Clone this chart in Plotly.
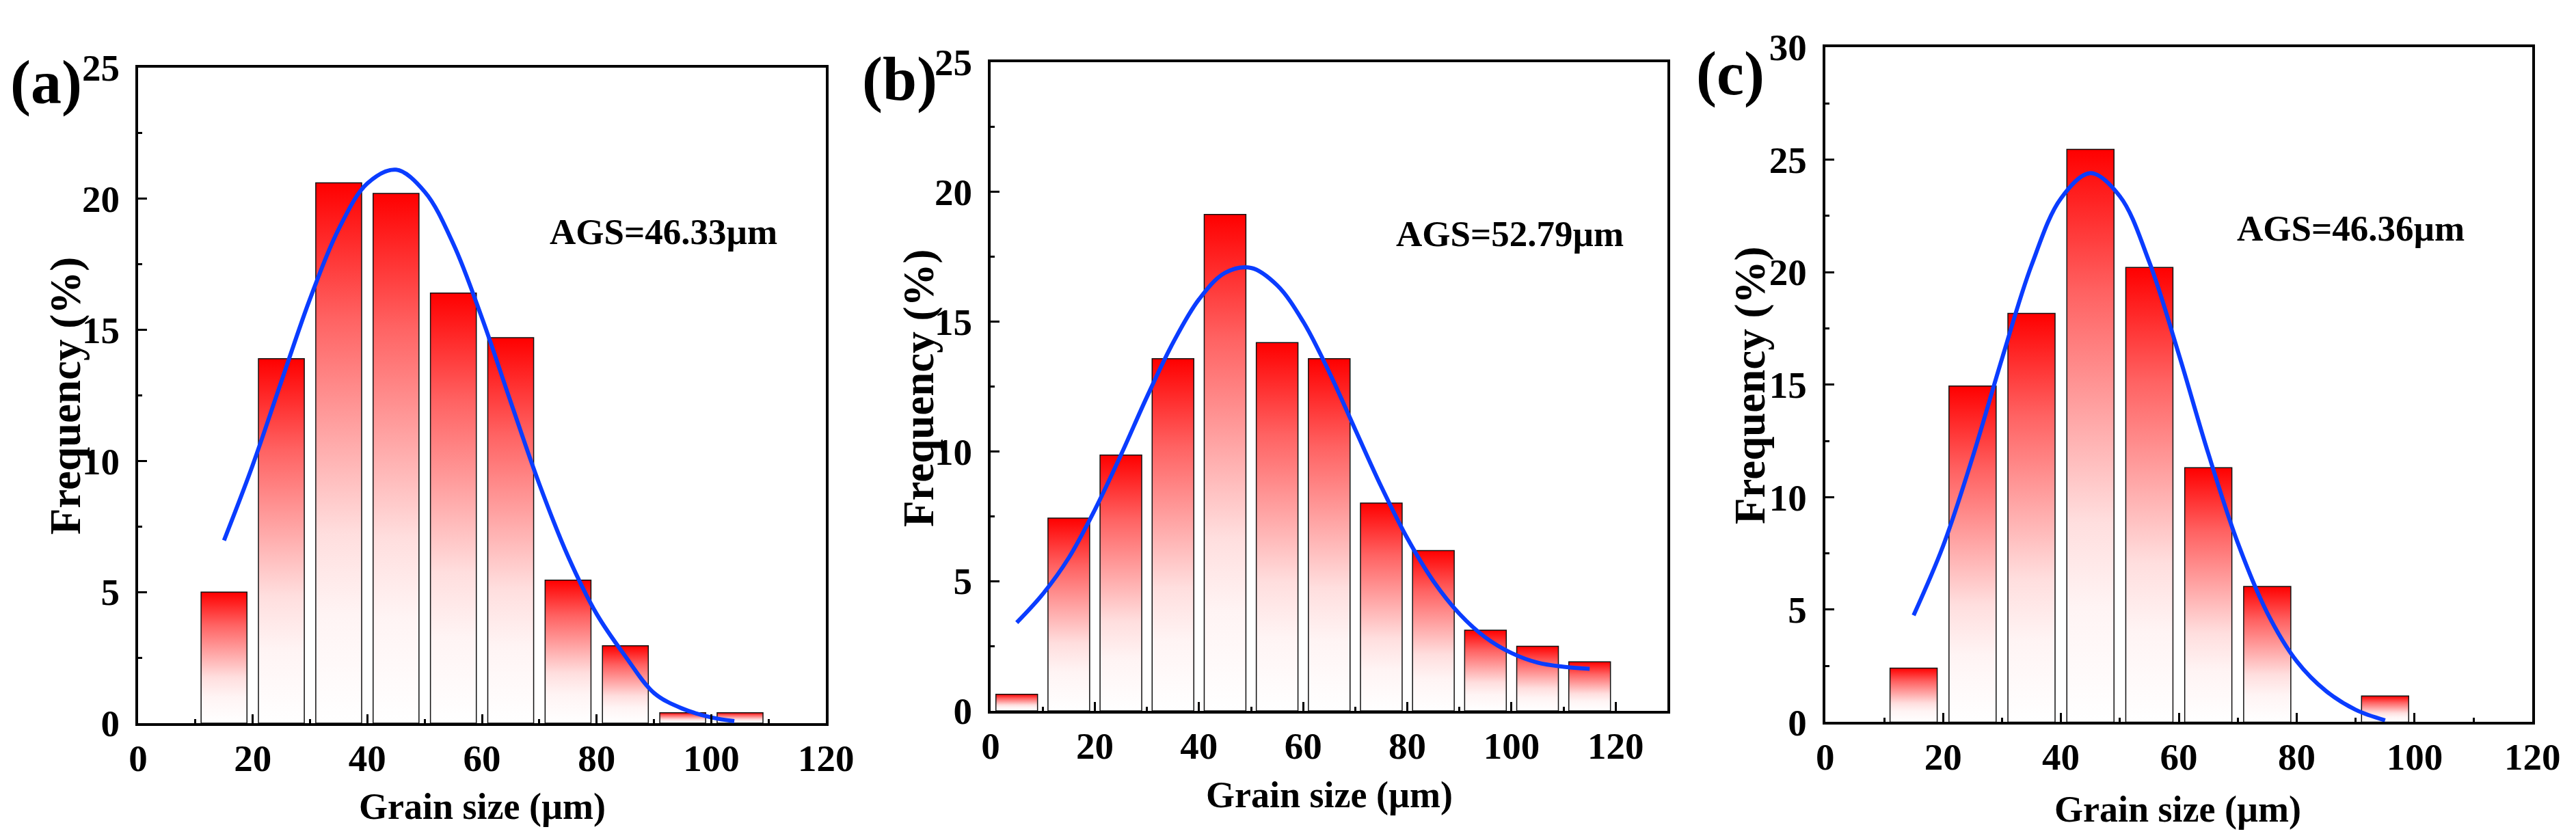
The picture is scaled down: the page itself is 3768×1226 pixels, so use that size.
import plotly.graph_objects as go

# ---- data ----
bins_a = [15, 25, 35, 45, 55, 65, 75, 85, 95, 105]
freq_a = [5.0, 13.9, 20.6, 20.2, 16.4, 14.7, 5.45, 2.95, 0.4, 0.4]
bins_b = [5, 15, 25, 35, 45, 55, 65, 75, 85, 95, 105, 115]
freq_b = [0.64, 7.43, 9.86, 13.57, 19.13, 14.19, 13.57, 8.01, 6.18, 3.11, 2.49, 1.89]
bins_c = [15, 25, 35, 45, 55, 65, 75, 95]
freq_c = [2.4, 14.94, 18.17, 25.46, 20.21, 11.31, 6.03, 1.16]

# fitted curves
fit_x_a = [15, 20, 25, 30, 35, 40, 45, 50, 55, 60, 65, 70, 75, 80, 85, 90, 95, 100, 104]
fit_y_a = [6.97, 9.84, 13.03, 16.18, 18.84, 20.58, 21.1, 20.26, 18.27, 15.44, 12.25,
           9.11, 6.36, 4.16, 2.55, 1.15, 0.55, 0.22, 0.08]
fit_x_b = [5, 10, 15, 20, 25, 30, 35, 40, 45, 50, 55, 60, 65, 70, 75, 80, 85, 90, 95,
           100, 105, 110, 115]
fit_y_b = [3.4, 4.5, 5.9, 7.75, 9.86, 12.1, 14.18, 15.86, 16.88, 17.07, 16.4, 15.0,
           13.05, 10.84, 8.64, 6.65, 5.0, 3.74, 2.83, 2.23, 1.86, 1.7, 1.62]
fit_x_c = [15, 20, 25, 30, 35, 40, 45, 50, 55, 60, 65, 70, 75, 80, 85, 90, 95]
fit_y_c = [4.75, 7.83, 11.77, 16.16, 20.3, 23.28, 24.4, 23.37, 20.44, 16.35, 11.94,
           7.97, 4.86, 2.71, 1.38, 0.55, 0.08]

ags_labels = ['AGS=46.33\u00b5m', 'AGS=52.79\u00b5m', 'AGS=46.36\u00b5m']
panel_labels = ['(a)', '(b)', '(c)']

FONT = 'Liberation Serif'
BAR_W = 8
BLUE = '#0a3cff'
# white at the bar foot, pure red at its top (fades quickly near the bottom)
BAR_SCALE = [[0, '#ffffff'], [0.2, '#fff4f4'], [0.35, '#ffdede'], [0.5, '#ffb0b0'],
             [0.75, '#ff6262'], [1, '#ff0000']]

fig = go.Figure()


def add_panel(n, bins, freq, fx, fy):
    xa = 'x' if n == 1 else 'x%d' % n
    ya = 'y' if n == 1 else 'y%d' % n
    for c, v in zip(bins, freq):
        # each bar its own polygon so the gradient spans that bar only
        fig.add_trace(go.Scatter(
            x=[c - BAR_W / 2, c - BAR_W / 2, c + BAR_W / 2, c + BAR_W / 2, c - BAR_W / 2],
            y=[0, v, v, 0, 0], mode='lines', fill='toself',
            line=dict(color='#111111', width=1.5),
            fillgradient=dict(type='vertical', colorscale=BAR_SCALE),
            xaxis=xa, yaxis=ya, showlegend=False, hoverinfo='skip'))
    fig.add_trace(go.Scatter(x=fx, y=fy, mode='lines', line=dict(color=BLUE, width=6, shape='spline'),
                             xaxis=xa, yaxis=ya, showlegend=False))


add_panel(1, bins_a, freq_a, fit_x_a, fit_y_a)
add_panel(2, bins_b, freq_b, fit_x_b, fit_y_b)
add_panel(3, bins_c, freq_c, fit_x_c, fit_y_c)


def axis(rng, dtick, mdtick, domain, anchor):
    return dict(range=rng, domain=domain, anchor=anchor, tick0=0, dtick=dtick,
                showline=True, mirror=True, linecolor='black', linewidth=4,
                ticks='inside', ticklen=13, tickwidth=3, tickcolor='black',
                minor=dict(tick0=0, dtick=mdtick, ticks='inside', ticklen=6, tickwidth=3,
                           tickcolor='black', showgrid=False),
                showgrid=False, zeroline=False, fixedrange=True, automargin=False,
                tickfont=dict(family=FONT, size=55, color='black', weight='bold'))


xdom = [[0.05146, 0.31855], [0.38246, 0.64530], [0.70642, 0.98097]]
ydom = [[0.14356, 0.92602], [0.15824, 0.93238], [0.14478, 0.95024]]

layout = dict(template='none', width=3768, height=1226, margin=dict(l=0, r=0, t=0, b=0, pad=0),
              paper_bgcolor='white', plot_bgcolor='white')
layout['xaxis'] = axis([0, 120], 20, 10, xdom[0], 'y')
layout['yaxis'] = axis([0, 25], 5, 2.5, ydom[0], 'x')
layout['xaxis2'] = axis([0, 130], 20, 10, xdom[1], 'y2')
layout['yaxis2'] = axis([0, 25], 5, 2.5, ydom[1], 'x2')
layout['xaxis3'] = axis([0, 120], 20, 10, xdom[2], 'y3')
layout['yaxis3'] = axis([0, 30], 5, 2.5, ydom[2], 'x3')
for k in ['xaxis', 'xaxis2', 'xaxis3']:
    layout[k]['ticklabelstandoff'] = 0
for k in ['yaxis', 'yaxis2', 'yaxis3']:
    layout[k]['ticklabelstandoff'] = 12
fig.update_layout(**layout)

bold = lambda s: dict(family=FONT, size=s, color='black', weight='bold')
ann = []
# AGS values
for i, (xv, yv) in enumerate([(71.5, 18.75), (77.6, 18.38), (69.6, 21.95)]):
    ref = '' if i == 0 else str(i + 1)
    ann.append(dict(text=ags_labels[i], x=xv, y=yv, xref='x' + ref, yref='y' + ref,
                    xanchor='left', yanchor='middle', showarrow=False, font=bold(53)))
# panel labels
for i, (px, py) in enumerate([(0.0159, 0.9078), (0.3471, 0.9123), (0.6696, 0.9184)]):
    ann.append(dict(text=panel_labels[i], x=px, y=py, xref='paper', yref='paper',
                    xanchor='center', yanchor='middle', showarrow=False, font=bold(90)))
# axis titles
for i, (px, py) in enumerate([(0.1850, 0.0440), (0.5140, 0.0580), (0.8432, 0.0410)]):
    ann.append(dict(text='Grain size (\u00b5m)', x=px, y=py, xref='paper', yref='paper',
                    xanchor='center', yanchor='middle', showarrow=False, font=bold(54)))
for i, (px, py) in enumerate([(0.02335, 0.5348), (0.35456, 0.5440), (0.67728, 0.5473)]):
    ann.append(dict(text='Frequency (%)', x=px, y=py, xref='paper', yref='paper', textangle=-90,
                    xanchor='center', yanchor='middle', showarrow=False, font=bold(63)))
fig.update_layout(annotations=ann)

fig.write_html("out.html")
